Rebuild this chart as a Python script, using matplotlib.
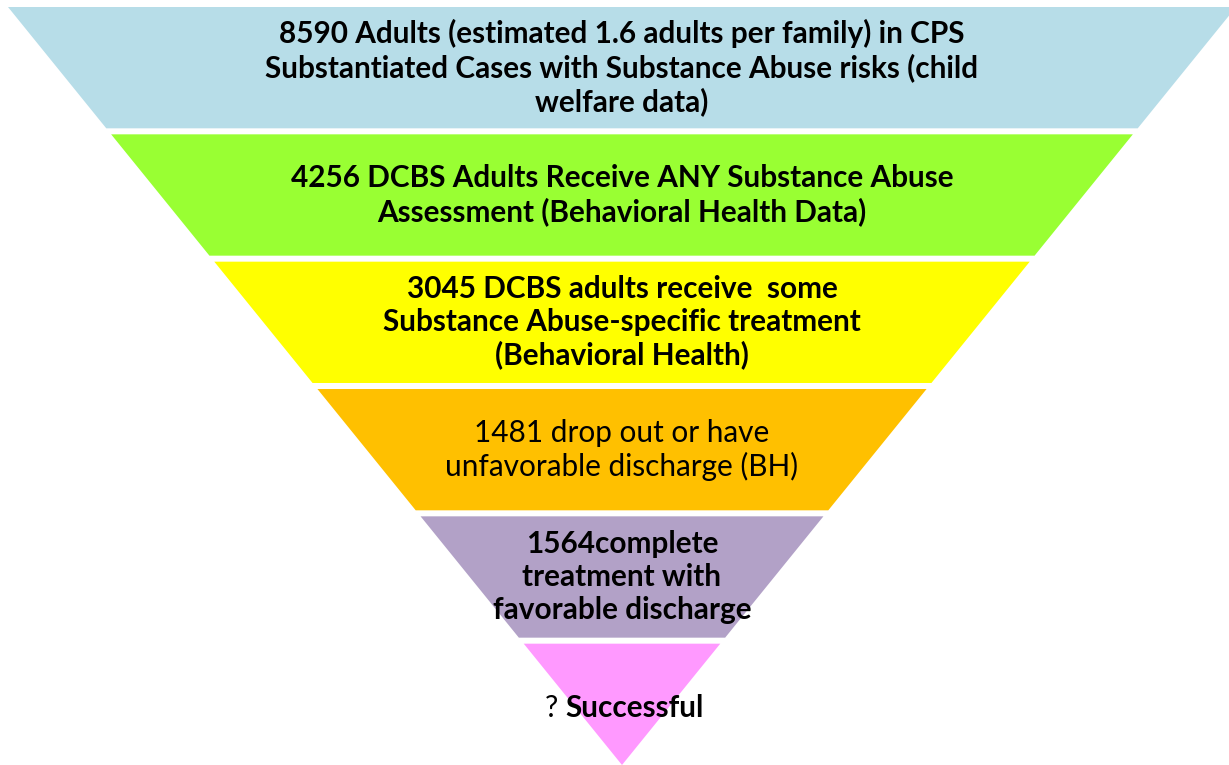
import matplotlib
matplotlib.use('Agg')
import matplotlib.pyplot as plt

plt.rcParams['font.family'] = ['Lato', 'DejaVu Sans']

# Funnel stages, top to bottom
stage_labels = [
    "8590 Adults (estimated 1.6 adults per family) in CPS\nSubstantiated Cases with Substance Abuse risks (child\nwelfare data)",
    "4256 DCBS Adults Receive ANY Substance Abuse\nAssessment (Behavioral Health Data)",
    "3045 DCBS adults receive  some\nSubstance Abuse-specific treatment\n(Behavioral Health)",
    "1481 drop out or have\nunfavorable discharge (BH)",
    "1564complete\ntreatment with\nfavorable discharge",
    "Successful",
]
stage_bold = [True, True, True, False, True, True]
stage_colors = ['#B7DDE8', '#99FF33', '#FFFF00', '#FFC000', '#B2A1C7', '#FF99FF']

# geometry in pixel units (figure is 1229 x 765)
W, H = 1229, 765
top_y = 7
apex_y = 765
cx = 622
half_top = 614
gap = 6
n = len(stage_labels)
pitch = (apex_y - top_y + gap) / n
fs = 21.4


def half_width(y):
    return half_top * (apex_y - y) / (apex_y - top_y)


fig = plt.figure(figsize=(W / 100, H / 100), dpi=100)
ax = fig.add_axes([0, 0, 1, 1])
ax.set_xlim(0, W)
ax.set_ylim(H, 0)
ax.axis('off')

for i, (label, bold, color) in enumerate(zip(stage_labels, stage_bold, stage_colors)):
    y0 = top_y + i * pitch
    y1 = min(y0 + pitch - gap, apex_y)
    w0, w1 = half_width(y0), half_width(y1)
    ax.fill([cx - w0, cx + w0, cx + w1, cx - w1], [y0, y0, y1, y1],
            color=color, lw=0)
    ym = (y0 + y1) / 2
    if i == n - 1:
        ax.text(565, 708, label, ha='left', va='center', fontsize=fs,
                fontweight='bold', color='black')
        ax.text(558, 708, "?", ha='right', va='center', fontsize=fs,
                color='black')
    else:
        ax.text(cx, ym, label, ha='center', va='center', fontsize=fs,
                fontweight='bold' if bold else 'normal', color='black',
                linespacing=1.2)

fig.savefig('out.png', dpi=100)
